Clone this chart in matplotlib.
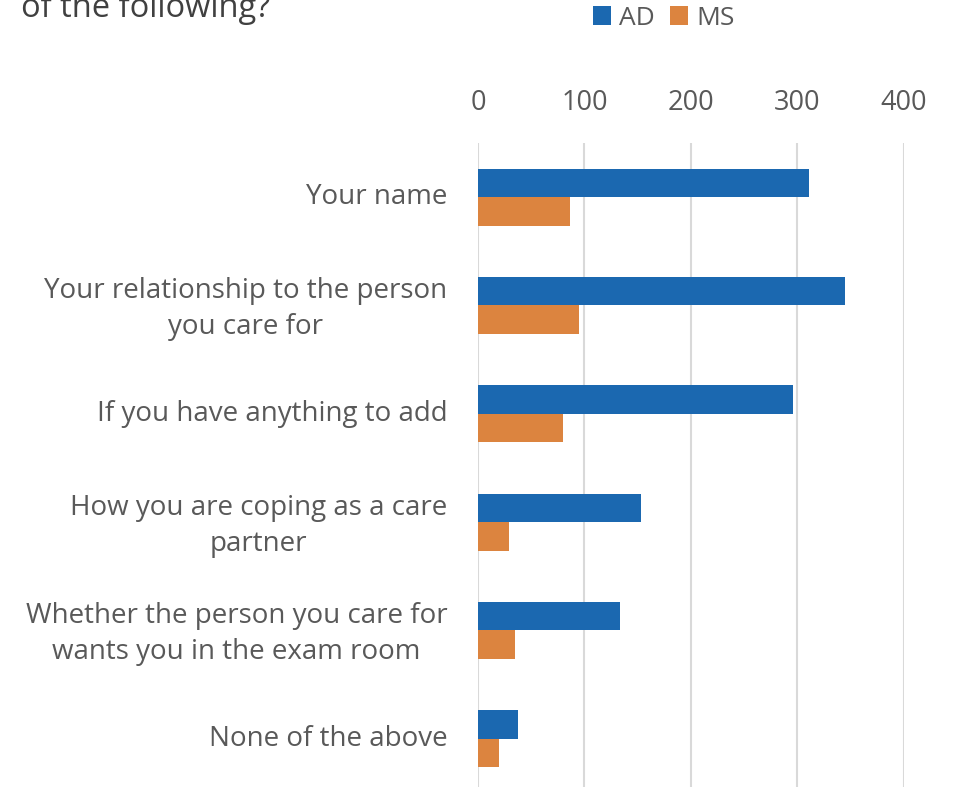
import numpy as np
import matplotlib.pyplot as plt
import matplotlib.transforms as mtransforms

# survey answers, top to bottom
categories = [
    "Your name",
    "Your relationship to the person\nyou care for",
    "If you have anything to add",
    "How you are coping as a care\npartner",
    "Whether the person you care for\nwants you in the exam room",
    "None of the above",
]
ad_counts = [311, 345, 296, 153, 133, 38]
ms_counts = [86, 95, 80, 29, 35, 20]
x_ticks = [0, 100, 200, 300, 400]

blue = "#1b68b0"
orange = "#dc843f"
text_col = "#595959"

plt.rcParams['font.family'] = ['Open Sans', 'DejaVu Sans']

fig = plt.figure(figsize=(9.55, 7.87), dpi=100)
ax = fig.add_axes([0.5005, -0.0076, 0.446, 0.826])

y = np.arange(len(categories))
h = 0.263
ax.barh(y - h / 2, ad_counts, height=h, color=blue, label="AD", zorder=3)
ax.barh(y + h / 2, ms_counts, height=h, color=orange, label="MS", zorder=3)

ax.set_ylim(len(categories) - 0.5, -0.5)
ax.set_xlim(0, 400)
ax.set_yticks(y)
ax.set_yticklabels(categories, fontsize=20, color=text_col, linespacing=1.36)
ax.set_xticks(x_ticks)
ax.set_xticklabels([str(t) for t in x_ticks], fontsize=19.5, color=text_col)
ax.xaxis.tick_top()
ax.tick_params(axis='both', length=0)
ax.tick_params(axis='x', pad=18.5)
ax.tick_params(axis='y', pad=22)
ax.grid(axis='x', color='#d9d9d9', linewidth=1.5, zorder=0)
for s in ax.spines.values():
    s.set_visible(False)

# nudge category labels up a few pixels
shift = mtransforms.ScaledTranslation(0, 3.5 / 100, fig.dpi_scale_trans)
for lbl in ax.get_yticklabels():
    lbl.set_horizontalalignment('right')
    lbl.set_multialignment('center')
    lbl.set_transform(lbl.get_transform() + shift)

fig.legend(loc='center', bbox_to_anchor=(0.695, 0.977), ncol=2, frameon=False,
           fontsize=19, labelcolor=text_col, handlelength=0.7, handleheight=0.7,
           handletextpad=0.3, columnspacing=0.55, borderpad=0)

# only the last line of the chart title fits on the canvas
fig.text(0.022, 0.978, "of the following?", fontsize=23.5, color="#404040", va='baseline')

fig.savefig("out.png", dpi=100)
